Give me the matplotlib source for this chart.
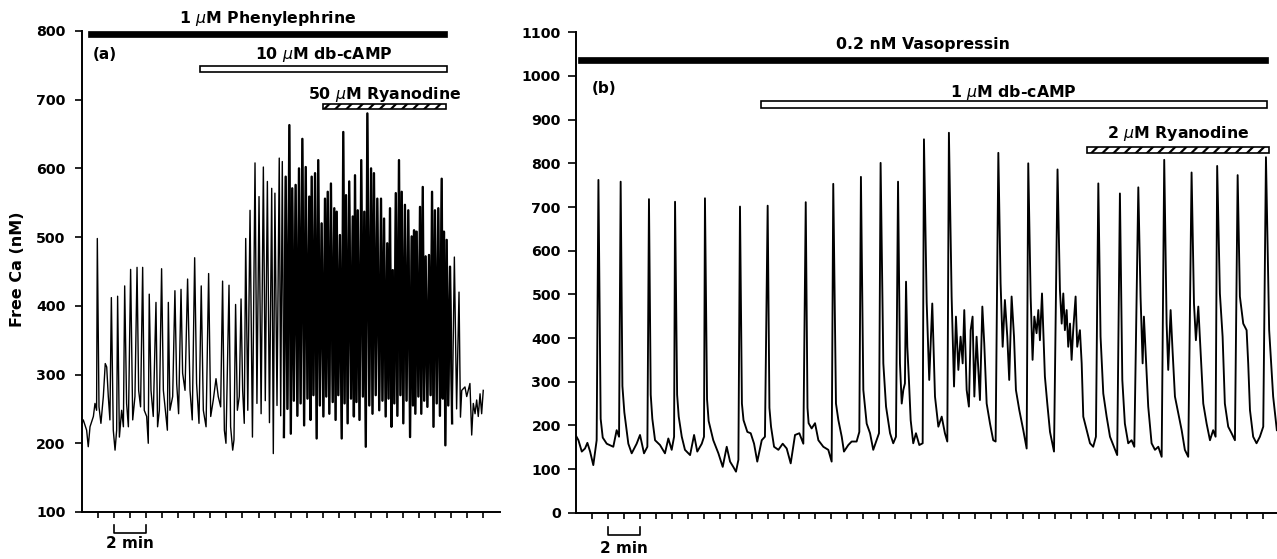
import numpy as np
import matplotlib
matplotlib.use("Agg")
import matplotlib.pyplot as plt
import matplotlib.transforms as mtransforms
from matplotlib.patches import Rectangle

plt.rcParams['font.family'] = 'DejaVu Sans'
plt.rcParams['mathtext.fontset'] = 'dejavusans'
plt.rcParams['hatch.linewidth'] = 1.6

# ---- panel (a): phenylephrine, time in min, free Ca in nM ----
a_spike_t = [0.955, 1.83, 2.22, 2.66, 3.03, 3.43, 3.78, 4.19, 4.61, 4.96, 5.38, 5.79, 6.17, 6.58,
             7.02, 7.43, 7.89, 8.76, 9.16, 9.57, 9.91,
             10.20, 10.47, 10.78, 11.03, 11.30, 11.55, 11.82, 12.02, 12.29, 12.48, 12.69,
             12.92, 13.10, 13.31, 13.52, 13.73, 13.94, 14.16, 14.31, 14.52, 14.72,
             14.93, 15.14, 15.31, 15.51, 15.72, 15.87, 16.07, 16.28, 16.45, 16.65,
             16.87, 17.01, 17.18, 17.40, 17.59, 17.78, 18.01, 18.19, 18.40, 18.63,
             18.82, 19.02, 19.19, 19.36, 19.55, 19.75, 19.92, 20.12, 20.33, 20.54,
             20.69, 20.85, 21.06, 21.23, 21.41, 21.62, 21.81, 21.99, 22.20, 22.41,
             22.55, 22.72, 22.93, 23.20, 23.49]
a_spike_v = [498, 412, 414, 429, 453, 456, 456, 417, 405, 454, 405, 422, 424, 439,
             470, 429, 447, 436, 430, 402, 410,
             498, 539, 608, 559, 602, 581, 571, 564, 615, 610, 588,
             663, 571, 576, 600, 643, 602, 559, 588, 593, 612,
             520, 556, 566, 578, 542, 537, 503, 653, 561, 581,
             530, 590, 539, 612, 537, 680, 600, 593, 556, 556,
             527, 491, 542, 452, 564, 612, 566, 547, 539, 501,
             510, 508, 544, 573, 472, 474, 566, 539, 542, 585,
             508, 496, 457, 471, 420]

a_low_t = [0.00, 0.08, 0.29, 0.39, 0.50, 0.71, 0.81, 0.91, 1.06, 1.18, 1.33, 1.45, 1.54, 1.64,
           1.74, 1.95, 2.06, 2.16, 2.33, 2.47, 2.58, 2.78, 2.89, 3.16, 3.30, 3.53, 3.65, 3.88,
           4.03, 4.13, 4.30, 4.44, 4.71, 4.82, 5.07, 5.23, 5.32, 5.48, 5.65, 5.90, 6.02, 6.27,
           6.42, 6.73, 6.87, 7.14, 7.29, 7.56, 7.73, 8.02, 8.18, 8.35, 8.49, 8.64, 8.87, 8.97,
           9.26, 9.39, 9.47, 9.68, 9.80, 10.01, 10.11,
           10.33, 10.62, 10.90, 11.16, 11.42, 11.68, 11.92, 12.15, 12.38, 12.58,
           12.80, 13.01, 13.20, 13.42, 13.62, 13.84, 14.05, 14.24, 14.42, 14.62,
           14.82, 15.04, 15.22, 15.41, 15.62, 15.80, 15.97, 16.18, 16.36, 16.55,
           16.76, 16.94, 17.10, 17.29, 17.50, 17.68, 17.90, 18.10, 18.30, 18.52,
           18.72, 18.92, 19.10, 19.28, 19.46, 19.65, 19.84, 20.02, 20.22, 20.44,
           20.62, 20.77, 20.96, 21.14, 21.32, 21.52, 21.72, 21.90, 22.10, 22.30,
           22.48, 22.64, 22.82, 23.06, 23.34,
           23.58, 23.66, 23.86, 23.97, 24.17, 24.28, 24.38, 24.49, 24.59, 24.69, 24.80, 24.90, 25.00]
a_low_v = [229, 234, 219, 195, 224, 239, 258, 248, 253, 229, 268, 316, 311, 268,
           234, 219, 190, 219, 209, 248, 224, 258, 224, 234, 268, 277, 253, 248,
           239, 200, 277, 239, 224, 248, 277, 239, 219, 248, 268, 287, 243, 302,
           277, 277, 234, 287, 229, 248, 224, 239, 263, 294, 268, 253, 219, 200,
           224, 190, 205, 248, 268, 277, 229,
           248, 209, 258, 243, 262, 230, 185, 255, 240, 209,
           250, 214, 262, 240, 258, 226, 265, 234, 270, 207,
           255, 239, 268, 243, 260, 234, 270, 207, 258, 229,
           265, 239, 260, 234, 268, 195, 255, 243, 270, 248,
           262, 239, 265, 224, 258, 240, 270, 229, 262, 209,
           255, 243, 268, 243, 262, 253, 270, 224, 258, 240,
           265, 197, 255, 229, 250,
           238, 277, 282, 268, 287, 212, 258, 243, 263, 239, 272, 243, 277]

# stretch of the recording where the oscillations merge into a dense band
a_dense = (12.55, 23.10)

a_drugs = ["1 $\\mu$M Phenylephrine", "10 $\\mu$M db-cAMP", "50 $\\mu$M Ryanodine"]
a_start = [0.39, 7.35, 15.03]
a_end = [22.76, 22.76, 22.68]

# ---- panel (b): vasopressin ----
b_spike_t = [1.43, 2.82, 4.59, 6.22, 8.09, 10.28, 12.01, 14.39, 16.11, 17.84, 19.07, 20.16, 20.66,
             21.78, 23.34, 26.43, 28.30, 30.13, 32.68, 34.03, 35.18, 36.80, 38.51, 40.11, 41.39, 43.16]
b_spike_v = [762, 758, 718, 712, 720, 701, 703, 711, 753, 769, 801, 758, 529,
             855, 870, 824, 800, 786, 754, 731, 745, 808, 779, 794, 773, 814]

b_low_t = [0.00, 0.18, 0.39, 0.59, 0.74, 0.91, 1.11, 1.32,
           1.57, 1.70, 1.95, 2.36, 2.57, 2.72,
           2.93, 3.05, 3.30, 3.51, 3.82, 4.03, 4.28, 4.49,
           4.70, 4.80, 4.97, 5.28, 5.59, 5.80, 6.01, 6.16,
           6.35, 6.45, 6.64, 6.84, 7.16, 7.41, 7.61, 7.89, 8.03,
           8.22, 8.32, 8.61, 8.93, 9.20, 9.45, 9.66, 9.86, 10.03, 10.18,
           10.40, 10.50, 10.74, 10.95, 11.16, 11.36, 11.64, 11.84,
           12.12, 12.22, 12.41, 12.68, 12.95, 13.20, 13.45, 13.72, 13.99, 14.24,
           14.50, 14.57, 14.76, 14.97, 15.18, 15.49, 15.80, 16.01,
           16.28, 16.43, 16.64, 16.78, 17.05, 17.26, 17.57, 17.74,
           17.99, 18.20, 18.41, 18.61, 18.82, 18.97,
           19.24, 19.41, 19.66, 19.86, 20.03,
           20.28, 20.39, 20.49, 20.59,
           20.74, 20.84, 20.95, 21.11, 21.28, 21.49, 21.70,
           21.95, 22.11, 22.30, 22.47, 22.68, 22.89, 23.09, 23.24,
           23.51, 23.66, 23.78, 23.93, 24.07, 24.20, 24.30, 24.45, 24.59, 24.70, 24.82, 24.93,
           25.07, 25.18, 25.28, 25.43, 25.55, 25.70, 25.91, 26.11, 26.26,
           26.57, 26.70, 26.84, 26.99, 27.11, 27.26, 27.41, 27.53, 27.74, 27.99, 28.20,
           28.45, 28.57, 28.68, 28.82, 28.93, 29.03, 29.16, 29.34, 29.49, 29.66, 29.91,
           30.28, 30.39, 30.49, 30.59, 30.70, 30.80, 30.91, 31.01, 31.11, 31.26, 31.36, 31.53,
           31.64, 31.74, 31.95, 32.16, 32.36, 32.53,
           32.82, 32.99, 33.20, 33.41, 33.66, 33.86,
           34.18, 34.34, 34.55, 34.76, 34.93,
           35.32, 35.45, 35.53, 35.66, 35.80, 36.01, 36.22, 36.43, 36.64,
           36.95, 37.05, 37.20, 37.32, 37.47, 37.68, 37.89, 38.09, 38.30,
           38.66, 38.78, 38.93, 39.07, 39.24, 39.45, 39.66, 39.86, 40.01,
           40.28, 40.45, 40.59, 40.80, 41.01, 41.22,
           41.53, 41.74, 41.95, 42.05, 42.16, 42.36, 42.57, 42.78, 42.99,
           43.36, 43.61, 43.84]
b_low_v = [178, 166, 140, 147, 160, 140, 109, 166,
           215, 172, 158, 151, 189, 174,
           290, 230, 158, 136, 158, 178, 136, 151,
           270, 215, 166, 155, 136, 170, 144, 174,
           270, 220, 174, 144, 132, 178, 140, 158, 174,
           260, 210, 166, 136, 105, 151, 117, 105, 94, 121,
           250, 212, 185, 182, 158, 117, 166, 174,
           240, 197, 151, 144, 158, 147, 113, 178, 182, 158,
           240, 205, 193, 205, 166, 151, 144, 117,
           250, 212, 174, 140, 155, 163, 163, 185,
           281, 204, 182, 144, 166, 182,
           342, 243, 182, 159, 174,
           342, 250, 281, 296,
           380, 304, 212, 159, 182, 155, 159,
           482, 304, 479, 266, 197, 220, 182, 163,
           495, 289, 449, 327, 403, 342, 464, 281, 243, 418, 449, 266,
           403, 327, 258, 472, 387, 250, 204, 166, 163,
           526, 380, 487, 403, 304, 495, 403, 281, 235, 189, 147,
           495, 350, 449, 411, 464, 395, 502, 312, 250, 185, 140,
           510, 433, 502, 418, 464, 380, 433, 350, 418, 495, 380, 418,
           342, 220, 189, 159, 151, 174,
           403, 273, 220, 174, 151, 132,
           304, 204, 159, 166, 151,
           495, 342, 449, 350, 243, 159, 144, 151, 128,
           433, 327, 464, 372, 266, 228, 189, 144, 128,
           479, 395, 472, 372, 250, 204, 166, 189, 174,
           502, 403, 250, 197, 182, 166,
           495, 433, 418, 342, 235, 174, 159, 174, 197,
           418, 266, 189]

b_drugs = ["0.2 nM Vasopressin", "1 $\\mu$M db-cAMP", "2 $\\mu$M Ryanodine"]
b_start = [0.18, 11.59, 31.95]
b_end = [43.30, 43.20, 43.36]


def merge(t1, v1, t2, v2):
    t = np.concatenate([t1, t2])
    v = np.concatenate([v1, v2])
    o = np.argsort(t, kind="stable")
    return t[o], v[o]


def style(ax, yticks, xmax, ylen, ypad):
    for s in ["top", "right"]:
        ax.spines[s].set_visible(False)
    for s in ["left", "bottom"]:
        ax.spines[s].set_linewidth(1.4)
    ax.set_xticks(np.arange(1, int(xmax) + 1))
    ax.set_yticks(yticks)
    ax.tick_params(axis="x", direction="out", length=4.5, width=1.2, labelbottom=False)
    ax.tick_params(axis="y", direction="out", length=ylen, width=1.2, labelsize=10.2, pad=ypad)
    for lab in ax.get_yticklabels():
        lab.set_fontweight("bold")


def drug_bars(ax, names, starts, ends, levels, text_v):
    kinds = ["solid", "open", "hatch"]
    for name, t0, t1, (v0, v1), tv, kind in zip(names, starts, ends, levels, text_v, kinds):
        if kind == "solid":
            r = Rectangle((t0, v0), t1 - t0, v1 - v0, facecolor="black", edgecolor="black", lw=0.5)
        elif kind == "open":
            r = Rectangle((t0, v0), t1 - t0, v1 - v0, facecolor="white", edgecolor="black", lw=1.2)
        else:
            r = Rectangle((t0, v0), t1 - t0, v1 - v0, facecolor="white", edgecolor="black",
                          lw=1.2, hatch="///")
        r.set_clip_on(False)
        ax.add_patch(r)
        ax.text((t0 + t1) / 2, tv, name, ha="center", va="baseline", fontsize=11.3,
                fontweight="bold")


def scale_bar(ax, y_top, y_bot, y_txt):
    tr = mtransforms.blended_transform_factory(ax.transData, ax.transAxes)
    ax.plot([2, 2, 4, 4], [y_top, y_bot, y_bot, y_top], color="black", lw=1.2,
            transform=tr, clip_on=False)
    ax.text(3, y_txt, "2 min", transform=tr, ha="center", va="top", fontsize=11,
            fontweight="bold")


fig = plt.figure(figsize=(12.77, 5.59), dpi=100)

# panel (a)
ax_a = fig.add_axes([0.0642, 0.0841, 0.3273, 0.8605])
ta, va = merge(a_spike_t, a_spike_v, a_low_t, a_low_v)
ax_a.plot(ta, va, color="black", lw=1.0)
# the dense band prints heavier in the original trace
m = (ta >= a_dense[0]) & (ta <= a_dense[1])
ax_a.plot(ta[m], va[m], color="black", lw=1.7)
ax_a.set_xlim(0, 26.04)
ax_a.set_ylim(100, 800)
style(ax_a, np.arange(100, 801, 100), 25, 4.8, 7)
drug_bars(ax_a, a_drugs, a_start, a_end,
          [(791, 800.5), (740, 749.5), (686, 693.3)], [812, 759, 701])
ax_a.text(0.67, 766, "(a)", ha="left", va="center", fontsize=11, fontweight="bold")
scale_bar(ax_a, -0.027, -0.044, -0.049)

# panel (b)
ax_b = fig.add_axes([0.4507, 0.0828, 0.5493, 0.8594])
tb, vb = merge(b_spike_t, b_spike_v, b_low_t, b_low_v)
ax_b.plot(tb, vb, color="black", lw=1.35)
ax_b.set_xlim(0, 43.85)
ax_b.set_ylim(0, 1100)
style(ax_b, np.arange(0, 1101, 100), 43, 5.8, 4.8)
drug_bars(ax_b, b_drugs, b_start, b_end,
          [(1030.5, 1044), (927.4, 942.8), (824.4, 838)], [1061, 952.6, 857])
ax_b.text(1.01, 971, "(b)", ha="left", va="center", fontsize=11, fontweight="bold")
scale_bar(ax_b, -0.029, -0.046, -0.058)

fig.text(18 / 1277, 1 - 269 / 559, "Free Ca (nM)", rotation=90, ha="center", va="center",
         fontsize=11.5, fontweight="bold")

fig.savefig("out.png", dpi=100)
